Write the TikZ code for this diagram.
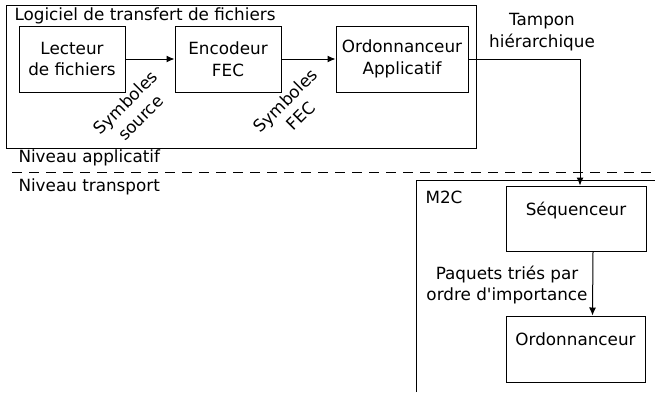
\documentclass[tikz,border=0pt]{standalone}
\usepackage{fontspec}
\setmainfont{DejaVu Sans}[Ligatures=TeXOff]
\usetikzlibrary{arrows.meta}
\begin{document}
\begin{tikzpicture}[x=1pt, y=-1pt,
            font=\fontsize{16.8}{21.5}\selectfont,
            line width=1pt,
            block/.style={rectangle, draw, align=center, inner sep=0pt},
            txt/.style={align=center, inner sep=0pt},
            arr/.style={-{Latex[length=8pt, width=7pt]}}
        ]
            \useasboundingbox (0,0) rectangle (655,392);
            % niveau applicatif
            \node[block, minimum width=470, minimum height=143] (logiciel) at (241,76.5) {};
            \node[txt, anchor=west] (titre) at (14,16) {Logiciel de transfert de fichiers};
            \node[block, minimum width=106, minimum height=66] (lecteur) at (72,59) {Lecteur\\de fichiers};
            \node[block, minimum width=106, minimum height=66] (encodeur) at (228,59) {Encodeur\\FEC};
            \node[block, minimum width=132, minimum height=66] (ordapp) at (402,59) {Ordonnanceur\\Applicatif};
            \draw[arr] (lecteur) -- (encodeur);
            \draw[arr] (encodeur) -- (ordapp);
            \node[txt, rotate=45] (symsrc) at (133,110) {Symboles\\source};
            \node[txt, rotate=45] (symfec) at (293,108) {Symboles\\FEC};
            \node[txt] (tampon) at (542,32) {Tampon\\hiérarchique};

            % separation
            \node[txt, anchor=west] (napp) at (18,158) {Niveau applicatif};
            \node[txt, anchor=west] (ntrans) at (18,187) {Niveau transport};
            \coordinate (sepg) at (12,172);
            \coordinate (sepd) at (655,172);
            \draw[dash pattern=on 10pt off 7pt] (sepg) -- (sepd);

            % niveau transport
            \coordinate (m2cbas) at (416,392);
            \coordinate (m2cdroite) at (655,180);
            \draw (m2cbas) |- (m2cdroite);
            \node[txt, anchor=west] (m2c) at (425,197) {M2C};
            \node[block, minimum width=140, minimum height=65,
                  label={[anchor=north, inner sep=0pt, yshift=-16pt]north:Séquenceur}] (seq) at (576,218.5) {};
            \node[block, minimum width=139, minimum height=66,
                  label={[anchor=north, inner sep=0pt, yshift=-17pt]north:Ordonnanceur}] (ord) at (575.5,349) {};
            \coordinate (chute) at (580,0);
            \draw[arr] (ordapp.east) -| (chute |- seq.north);
            \draw[arr] ([xshift=17pt]seq.south) -- ([xshift=17pt]ord.north);
            \node[txt] (paquets) at (507,285) {Paquets triés par\\ordre d'importance};
        \end{tikzpicture}
\end{document}
